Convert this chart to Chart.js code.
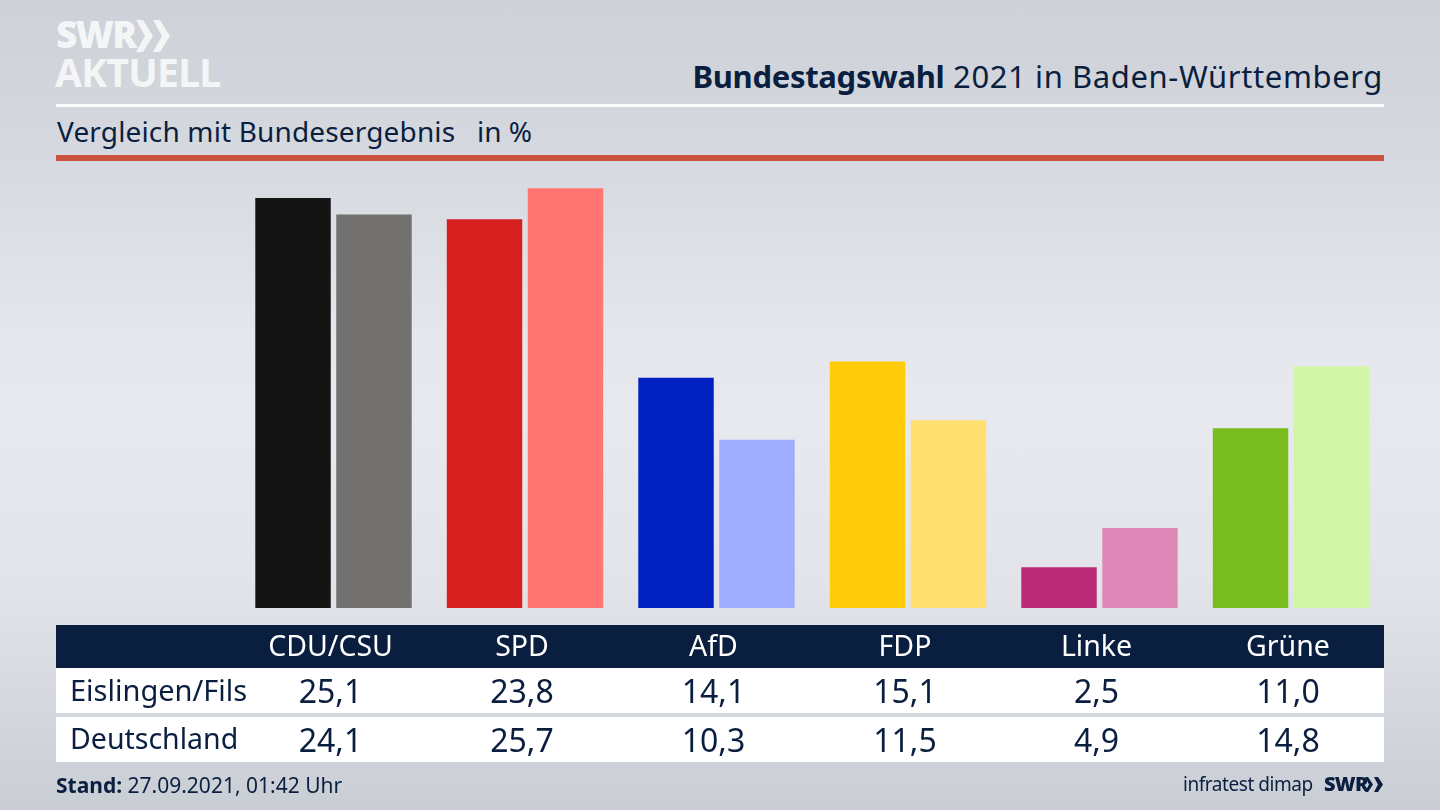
<!DOCTYPE html>
<html lang="de">
<head>
<meta charset="utf-8">
<title>Bundestagswahl 2021 in Baden-Württemberg</title>
<script src="https://cdn.jsdelivr.net/npm/chart.js@4"></script>
<style>
  html, body { margin: 0; padding: 0; }
  body {
    width: 1440px; height: 810px; overflow: hidden; position: relative;
    font-family: "Noto Sans", sans-serif; color: #0a1f3f;
    background: linear-gradient(180deg, #cdd1d8 0%, #d6d9df 20%, #e5e7ec 42%, #e8e9ee 52%, #e2e4e9 72%, #c9cdd4 100%);
  }
  canvas { position: absolute; left: 0; top: 0; }
  .abs { position: absolute; white-space: nowrap; line-height: 1; }
  .rect { position: absolute; left: 56px; width: 1328px; }
  .cell { transform: translateX(-50%); }
</style>
</head>
<body>
<div class="abs" style="left:56px;top:15px;font-size:37px;font-weight:900;color:#f4f5f7;letter-spacing:-1.8px">SWR</div>
<svg class="abs" style="left:136px;top:20px" width="35" height="32"><path d="M0 0h7l10 16-10 16H0l9-16zM17 0h7l10 16-10 16h-7l9-16z" fill="#f4f5f7"/></svg>
<div class="abs" style="left:55px;top:52px;font-size:39px;font-weight:700;color:#f4f5f7;letter-spacing:-0.7px">AKTUELL</div>

<div class="abs" style="right:57px;top:61px;font-size:31px;letter-spacing:0.6px"><b style="letter-spacing:-0.3px">Bundestagswahl</b> 2021 in Baden-Württemberg</div>
<div class="rect" style="top:104px;height:3px;background:#fff"></div>
<div class="abs" style="left:57px;top:117px;font-size:28px;letter-spacing:0.15px">Vergleich mit Bundesergebnis</div>
<div class="abs" style="left:477px;top:117px;font-size:28px">in %</div>
<div class="rect" style="top:155px;height:6px;background:#c9533f"></div>

<canvas id="chart" width="1440" height="810"></canvas>

<div class="rect" style="top:625px;height:43px;background:#0a1f3f"></div>
<div class="rect" style="top:668px;height:45px;background:#fff"></div>
<div class="rect" style="top:717px;height:45px;background:#fff"></div>
<div id="table"></div>

<div class="abs" style="left:56px;top:775px;font-size:21px"><b>Stand:</b> 27.09.2021, 01:42 Uhr</div>
<div class="abs" style="left:1183px;top:775px;font-size:19px;letter-spacing:-0.45px">infratest dimap</div>
<div class="abs" style="left:1324px;top:774px;font-size:20px;font-weight:900;letter-spacing:-0.7px">SWR</div>
<svg class="abs" style="left:1365px;top:777px" width="19" height="15"><path d="M0 0h3l5 7.5-5 7.5H0l4-7.5zM9 0h4l5 7.5-5 7.5H9l4-7.5z" fill="#0a1f3f"/></svg>

<script>
var parties = ['CDU/CSU', 'SPD', 'AfD', 'FDP', 'Linke', 'Grüne'];
var rowNames = ['Eislingen/Fils', 'Deutschland'];
var eislingen = [25.1, 23.8, 14.1, 15.1, 2.5, 11.0];
var deutschland = [24.1, 25.7, 10.3, 11.5, 4.9, 14.8];
var coloursLocal = ['#141414', '#d61f1f', '#0020c2', '#ffcc0a', '#bb2c76', '#78bc1e'];
var coloursFederal = ['#72716f', '#ff7670', '#9fadff', '#ffdf70', '#e088b8', '#d2f5a8'];

var chart = new Chart(document.getElementById('chart').getContext('2d'), {
    type: 'bar',
    data: {
        labels: parties,
        datasets: [{
            label: rowNames[0],
            data: eislingen,
            backgroundColor: coloursLocal,
            categoryPercentage: 0.8455,
            barPercentage: 0.932
        }, {
            label: rowNames[1],
            data: deutschland,
            backgroundColor: coloursFederal,
            categoryPercentage: 0.8455,
            barPercentage: 0.932
        }]
    },
    options: {
        responsive: false,
        animation: false,
        devicePixelRatio: 1,
        layout: { padding: { left: 237.75, right: 53.25, top: 183.4, bottom: 202 } },
        plugins: { legend: { display: false }, tooltip: { enabled: false } },
        scales: {
            x: { display: false },
            y: { display: false, min: 0, max: 26 }
        }
    }
});

// table columns follow the chart's own x scale
function addText(text, left, top, size, colour, centred) {
    var el = document.createElement('div');
    el.className = 'abs' + (centred ? ' cell' : '');
    el.textContent = text;
    el.style.left = left + 'px';
    el.style.top = top + 'px';
    el.style.fontSize = size + 'px';
    el.style.color = colour;
    document.getElementById('table').appendChild(el);
}

function formatValue(v) {
    return v.toFixed(1).replace('.', ',');
}

addText(rowNames[0], 70, 675, 29, '#0a1f3f', false);
addText(rowNames[1], 70, 724, 28.5, '#0a1f3f', false);
parties.forEach(function(p, i) {
    var x = chart.scales.x.getPixelForValue(i) - 3;
    addText(p, x, 631, 28.5, '#ffffff', true);
    addText(formatValue(eislingen[i]), x, 675, 32, '#0a1f3f', true);
    addText(formatValue(deutschland[i]), x, 724, 32, '#0a1f3f', true);
});
</script>
</body>
</html>
